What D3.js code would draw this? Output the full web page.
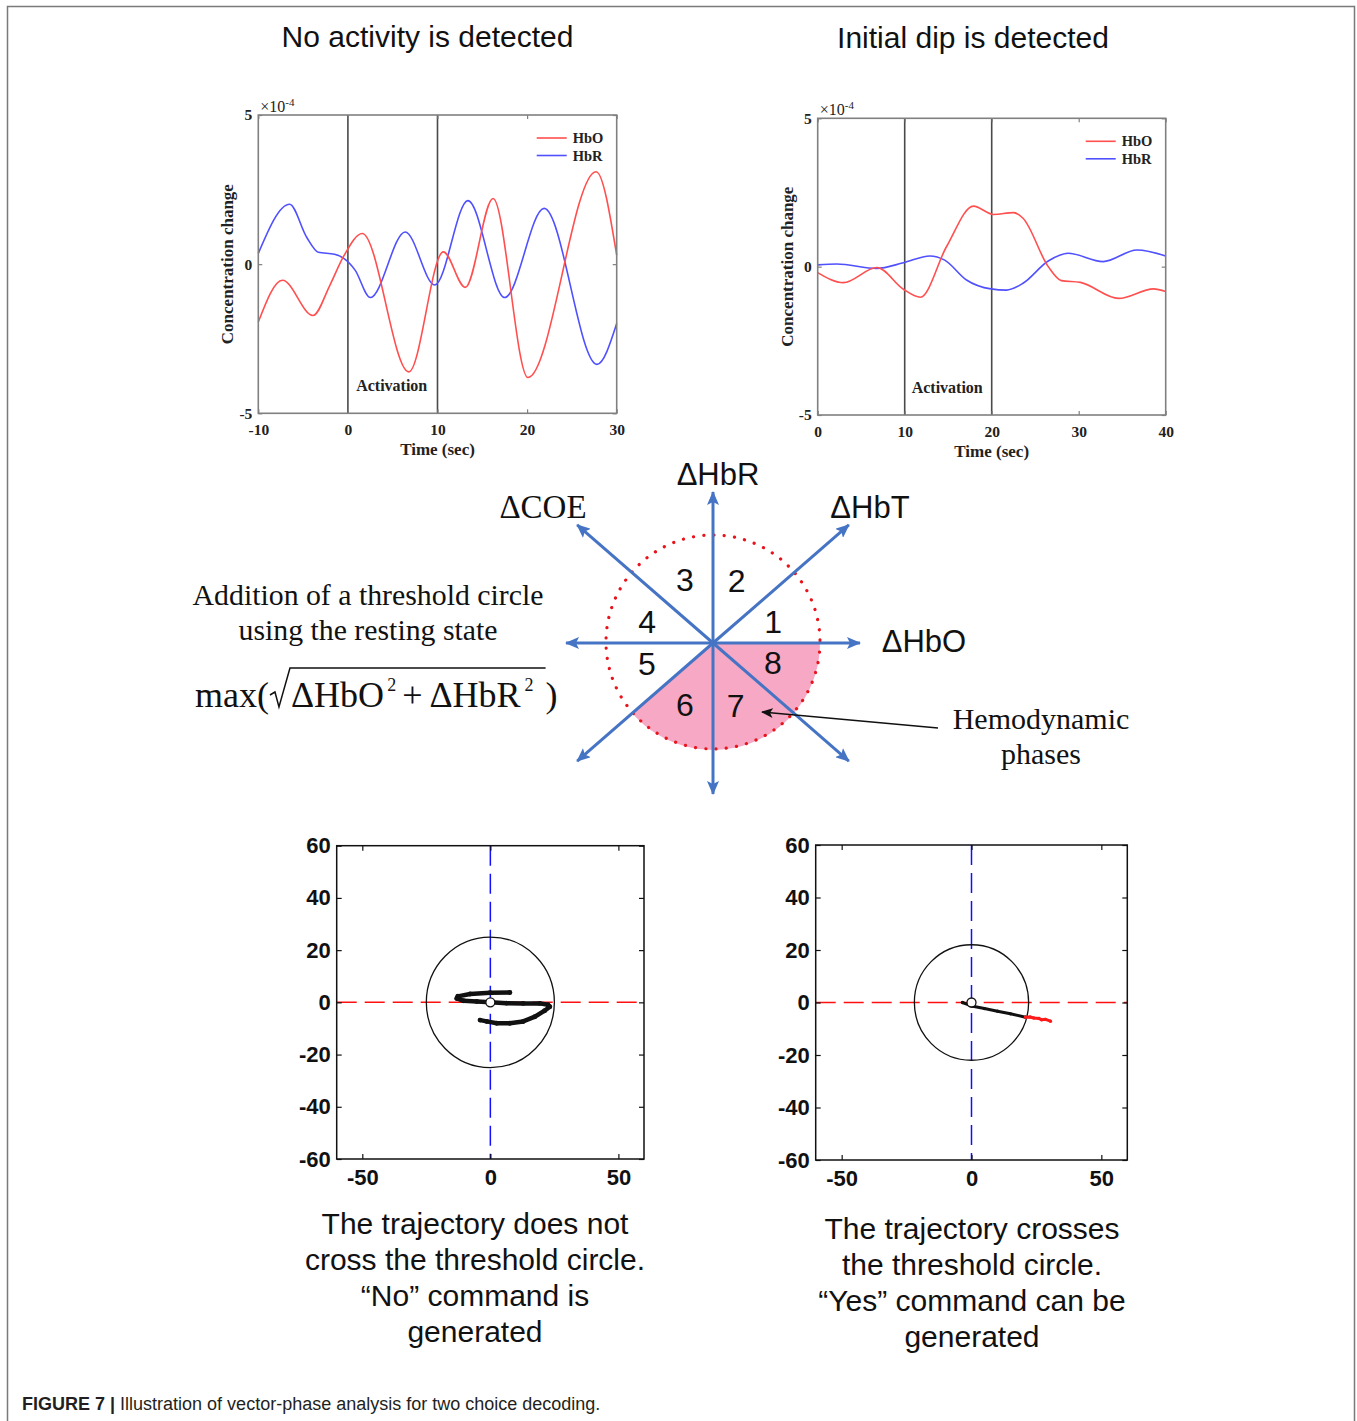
<!DOCTYPE html>
<html><head><meta charset="utf-8">
<script src="https://cdn.jsdelivr.net/npm/d3@7"></script>
<style>body{margin:0;background:#fff}svg{display:block}</style>
</head><body>
<svg id="fig" width="1357" height="1421"></svg>
<script>
// ---------------- DATA ----------------
const panelTitles = ["No activity is detected", "Initial dip is detected"];
const concDomain = [-5, 5];
const concTicks = [-5, 0, 5];
const leftTimeDomain = [-10, 30];
const leftTimeTicks = [-10, 0, 10, 20, 30];
const rightTimeDomain = [0, 40];
const rightTimeTicks = [0, 10, 20, 30, 40];
const leftActivation = [0, 10];
const rightActivation = [10, 20];
const legendLabels = ["HbO", "HbR"];
// [time (s), concentration change (x1e-4)]
const leftHbO = [[-10,-1.94],[-7.3,-0.54],[-3.9,-1.72],[-2,-0.7],[-0.5,0.25],[1.6,1.03],[6.8,-3.61],[10.65,0.41],[13.1,-0.78],[16.2,2.2],[20.1,-3.8],[27.7,3.1],[30,0.3]];
const leftHbR = [[-10,0.36],[-6.5,2.01],[-4.6,0.9],[-3.3,0.4],[-1.5,0.33],[-0.5,0.2],[0.8,-0.2],[2.5,-1.12],[6.4,1.08],[9.7,-0.7],[13.4,2.13],[17.5,-1.12],[21.9,1.87],[27.8,-3.36],[30,-1.99]];
const rightHbO = [[0,-0.2],[2.95,-0.54],[6.8,-0.03],[9.85,-0.76],[11.8,-1.03],[14.8,0.67],[17.9,2.04],[20.2,1.76],[22.5,1.82],[23.6,1.63],[26.5,0.0],[28,-0.47],[30.2,-0.53],[34.6,-1.07],[38.6,-0.75],[40,-0.84]];
const rightHbR = [[0,0.06],[2.2,0.09],[6.8,-0.06],[9.85,0.13],[12.9,0.36],[14.6,0.22],[17.1,-0.45],[19.9,-0.75],[21.7,-0.79],[23.6,-0.56],[26.5,0.19],[28.8,0.45],[32.8,0.17],[36.7,0.56],[40,0.36]];

const phaseAxes = [
  {label: "ΔHbO", angle: 0},
  {label: "ΔHbT", angle: 41},
  {label: "ΔHbR", angle: 90},
  {label: "ΔCOE", angle: 139}
];
const phaseNumbers = ["1","2","3","4","5","6","7","8"];

const vpDomain = [-60, 60];
const vpTicksX = [-50, 0, 50];
const vpTicksY = [-60, -40, -20, 0, 20, 40, 60];
const noThreshold = 25;
const yesThreshold = 22;
// [ΔHbO, ΔHbR]
const noTrajectory = [[7.6,3.8],[-0.1,3.7],[-7.9,3.2],[-12.7,2.3],[-13.1,1.5],[-10.5,0.6],[-5.3,0.3],[0,0],[6.3,-0.3],[12.8,-0.4],[19.3,-0.4],[22.5,-0.9],[23.2,-1.7],[21.2,-3.2],[17.4,-5.5],[12.8,-7.3],[7.6,-8.0],[2.5,-8.0],[-1.4,-7.3],[-4.0,-6.8]];
const yesTrajectoryInside = [[-3.5,0.0],[0,-1.3],[5,-2.3],[10,-3.3],[15,-4.3],[20.8,-5.6]];
const yesTrajectoryOutside = [[20.8,-5.6],[22.5,-5.5],[24,-5.9],[26,-6.1],[27,-6.6],[28.5,-6.4],[30.4,-7.1]];

const bottomTextLeft = ["The trajectory does not", "cross the threshold circle.", "“No” command is", "generated"];
const bottomTextRight = ["The trajectory crosses", "the threshold circle.", "“Yes” command can be", "generated"];
const captionBold = "FIGURE 7 |";
const captionText = " Illustration of vector-phase analysis for two choice decoding.";

// ---------------- DRAWING ----------------
const svg = d3.select('#fig');
const SANS = "'Liberation Sans', Arial, Helvetica, sans-serif";
const SERIF = "'Liberation Serif', 'Times New Roman', Times, serif";
const hboColor = "#ff4f4f", hbrColor = "#5050ff";

svg.append('path').attr('d', 'M7.5,1421 V6.5 H1354.5 V1421')
  .attr('fill', 'none').attr('stroke', '#7a7a7a').attr('stroke-width', 1.5);

svg.selectAll('text.title').data(panelTitles).join('text').attr('class','title')
  .attr('x', (d,i) => i ? 973 : 427.5).attr('y', (d,i) => i ? 48 : 47)
  .attr('text-anchor','middle').attr('font-family', SANS).attr('font-size', 30).attr('fill','#111')
  .text(d => d);

function styleAxis(a, col) {
  a.select('.domain').remove();
  a.selectAll('.tick line').attr('stroke', col).attr('stroke-width', 1.2);
  a.attr('font-family', SERIF).attr('font-size', 15.5).attr('font-weight', 'bold');
  a.selectAll('.tick text').attr('fill', '#222');
}

function timeChart(c) {
  const x = d3.scaleLinear().domain(c.domain).range([c.left, c.right]);
  const y = d3.scaleLinear().domain(concDomain).range([c.bottom, c.top]);
  const g = svg.append('g');
  g.selectAll('line.act').data(c.act).join('line')
    .attr('x1', d => x(d)).attr('x2', d => x(d)).attr('y1', c.top).attr('y2', c.bottom)
    .attr('stroke', '#4a4a4a').attr('stroke-width', 1.6);
  const line = d3.line().x(d => x(d[0])).y(d => y(d[1])).curve(d3.curveMonotoneX);
  g.append('path').datum(c.hbr).attr('d', line).attr('fill','none').attr('stroke', hbrColor).attr('stroke-width', 1.6);
  g.append('path').datum(c.hbo).attr('d', line).attr('fill','none').attr('stroke', hboColor).attr('stroke-width', 1.6);

  const fmt = d => String(d);
  const b = g.append('g').attr('transform', `translate(0,${c.bottom})`)
    .call(d3.axisBottom(x).tickValues(c.ticks).tickSize(-4).tickPadding(11).tickFormat(fmt));
  styleAxis(b, '#808080');
  const t = g.append('g').attr('transform', `translate(0,${c.top})`)
    .call(d3.axisTop(x).tickValues(c.ticks).tickSize(-4).tickFormat(''));
  styleAxis(t, '#808080');
  const l = g.append('g').attr('transform', `translate(${c.left},0)`)
    .call(d3.axisLeft(y).tickValues(concTicks).tickSize(-4).tickPadding(6).tickFormat(fmt));
  styleAxis(l, '#808080');
  const r = g.append('g').attr('transform', `translate(${c.right},0)`)
    .call(d3.axisRight(y).tickValues(concTicks).tickSize(-4).tickFormat(''));
  styleAxis(r, '#808080');

  g.append('rect').attr('x', c.left).attr('y', c.top).attr('width', c.right - c.left).attr('height', c.bottom - c.top)
    .attr('fill','none').attr('stroke','#808080').attr('stroke-width', 1.6);

  const ex = g.append('text').attr('x', c.left + 2).attr('y', c.top - 3)
    .attr('font-family', SERIF).attr('font-size', 16).attr('fill','#222');
  ex.append('tspan').text('×10');
  ex.append('tspan').attr('font-size', 11).attr('dy', -6).text('-4');

  const lg = g.append('g');
  legendLabels.forEach((lab, i) => {
    const yy = c.top + 23 + i * 17.5;
    lg.append('line').attr('x1', c.right - 80).attr('x2', c.right - 50).attr('y1', yy).attr('y2', yy)
      .attr('stroke', i ? hbrColor : hboColor).attr('stroke-width', 1.6);
    lg.append('text').attr('x', c.right - 44).attr('y', yy + 5).attr('font-family', SERIF)
      .attr('font-weight','bold').attr('font-size', 14.5).attr('fill','#222').text(lab);
  });

  g.append('text').attr('transform', `translate(${c.left - 25},${(c.top + c.bottom)/2}) rotate(-90)`)
    .attr('text-anchor','middle').attr('font-family', SERIF).attr('font-weight','bold').attr('font-size', 17).attr('fill','#222')
    .text('Concentration change');
  g.append('text').attr('x', (c.left + c.right)/2).attr('y', c.bottom + 42)
    .attr('text-anchor','middle').attr('font-family', SERIF).attr('font-weight','bold').attr('font-size', 17).attr('fill','#222')
    .text('Time (sec)');
  g.append('text').attr('x', (x(c.act[0]) + x(c.act[1]))/2 - 1).attr('y', c.bottom - 22)
    .attr('text-anchor','middle').attr('font-family', SERIF).attr('font-weight','bold').attr('font-size', 16).attr('fill','#222')
    .text('Activation');
}

timeChart({left: 258.3, right: 616.7, top: 115, bottom: 413.3, domain: leftTimeDomain, ticks: leftTimeTicks, act: leftActivation, hbo: leftHbO, hbr: leftHbR});
timeChart({left: 817.7, right: 1165.7, top: 118.3, bottom: 415, domain: rightTimeDomain, ticks: rightTimeTicks, act: rightActivation, hbo: rightHbO, hbr: rightHbR});

// ---------- vector phase diagram ----------
const cx = 713, cy = 643, rThr = 107;
const blue = "#4674c4";
const dg = svg.append('g');
const defs = svg.append('defs');
defs.append('marker').attr('id','bArrow').attr('viewBox','0 0 14 12').attr('refX', 13).attr('refY', 6)
  .attr('markerWidth', 14).attr('markerHeight', 12).attr('markerUnits','userSpaceOnUse').attr('orient','auto')
  .append('path').attr('d','M0,0 L14,6 L0,12 L3,6 Z').attr('fill', blue);
defs.append('marker').attr('id','kArrow').attr('viewBox','0 0 12 10').attr('refX', 11).attr('refY', 5)
  .attr('markerWidth', 12).attr('markerHeight', 10).attr('markerUnits','userSpaceOnUse').attr('orient','auto')
  .append('path').attr('d','M0,0 L12,5 L0,10 L3,5 Z').attr('fill', '#111');

// highlighted sector (phases 6–8): from the +ΔHbO axis clockwise to the −ΔHbT axis
dg.append('path').attr('transform', `translate(${cx},${cy})`)
  .attr('d', d3.arc().innerRadius(0).outerRadius(rThr)
    .startAngle(Math.PI / 2).endAngle((180 - phaseAxes[1].angle + 90) * Math.PI / 180)())
  .attr('fill', '#f6a8c4');
dg.append('circle').attr('cx', cx).attr('cy', cy - 1).attr('r', rThr)
  .attr('fill','none').attr('stroke','#e8141c').attr('stroke-width', 3.2)
  .attr('stroke-dasharray','0.1 10.2').attr('stroke-linecap','round');

const halfLen = a => (a === 0 ? 147 : a === 90 ? 151 : 180);
phaseAxes.forEach(ax => {
  const rad = ax.angle * Math.PI / 180, L = halfLen(ax.angle);
  const dx = Math.cos(rad) * L, dy = -Math.sin(rad) * L;
  dg.append('line').attr('x1', cx).attr('y1', cy).attr('x2', cx + dx).attr('y2', cy + dy)
    .attr('stroke', blue).attr('stroke-width', 3).attr('marker-end','url(#bArrow)');
  dg.append('line').attr('x1', cx).attr('y1', cy).attr('x2', cx - dx).attr('y2', cy - dy)
    .attr('stroke', blue).attr('stroke-width', 3).attr('marker-end','url(#bArrow)');
});
const axisLabelPos = {"ΔHbO": [924, 652, SANS, 31], "ΔHbT": [870, 518, SANS, 31], "ΔHbR": [718, 485, SANS, 31], "ΔCOE": [543, 518, SERIF, 33]};
phaseAxes.forEach(ax => {
  const p = axisLabelPos[ax.label];
  dg.append('text').attr('x', p[0]).attr('y', p[1]).attr('text-anchor','middle')
    .attr('font-family', p[2]).attr('font-size', p[3]).attr('fill','#111').text(ax.label);
});
// phase number label positions (polar offsets from the origin)
const numR = [63.6, 67.3, 69, 69.3, 69, 68, 66, 63.2];
const numAng = [19.3, 69.4, 114, 162, 197, 245.7, 290, 341.6];
phaseNumbers.forEach((n, i) => {
  const a = numAng[i] * Math.PI / 180, rr = numR[i];
  dg.append('text').attr('x', cx + Math.cos(a) * rr).attr('y', cy - Math.sin(a) * rr)
    .attr('dy', '0.36em').attr('text-anchor','middle').attr('font-family', SANS).attr('font-size', 32).attr('fill','#111').text(n);
});

// annotation
dg.append('line').attr('x1', 938).attr('y1', 728).attr('x2', 762).attr('y2', 712)
  .attr('stroke','#111').attr('stroke-width', 1.4).attr('marker-end','url(#kArrow)');
dg.selectAll('text.hemo').data(['Hemodynamic','phases']).join('text').attr('class','hemo')
  .attr('x', 1041).attr('y', (d,i) => 729 + i * 35).attr('text-anchor','middle')
  .attr('font-family', SERIF).attr('font-size', 30).attr('fill','#111').text(d => d);

dg.selectAll('text.add').data(['Addition of a threshold circle','using the resting state']).join('text').attr('class','add')
  .attr('x', 368).attr('y', (d,i) => 605 + i * 35).attr('text-anchor','middle')
  .attr('font-family', SERIF).attr('font-size', 29.8).attr('fill','#111').text(d => d);

// formula
const fy = 707, fs = 36;
const t1 = dg.append('text').attr('x', 195).attr('y', fy).attr('font-family', SERIF).attr('font-size', fs).attr('fill','#111').text('max(');
const w1 = t1.node().getComputedTextLength();
const r0 = 195 + w1;
const inner = dg.append('text').attr('x', r0 + 22).attr('y', fy).attr('font-family', SERIF).attr('font-size', fs).attr('fill','#111');
inner.append('tspan').text('ΔHbO');
inner.append('tspan').attr('font-size', 18).attr('dy', -16).attr('dx', 3).text('2');
inner.append('tspan').attr('dy', 16).attr('dx', 6).text('+');
inner.append('tspan').attr('dx', 7).text('ΔHbR');
inner.append('tspan').attr('font-size', 18).attr('dy', -16).attr('dx', 4).text('2');
const bb = inner.node().getBBox();
const oEnd = Math.max(bb.x + bb.width + 12, 543);
dg.append('path').attr('d', `M${r0+1},${fy-12} L${r0+6},${fy-15} L${r0+10},${fy} L${r0+21},${fy-39} H${oEnd}`)
  .attr('fill','none').attr('stroke','#111').attr('stroke-width', 1.5);
dg.append('text').attr('x', oEnd).attr('y', fy).attr('font-family', SERIF).attr('font-size', fs).attr('fill','#111').text(')');

// ---------- vector phase trajectories ----------
function vpChart(c) {
  const x = d3.scaleLinear().domain(vpDomain).range([c.left, c.right]);
  const y = d3.scaleLinear().domain(vpDomain).range([c.bottom, c.top]);
  const g = svg.append('g');
  g.append('line').attr('x1', c.left).attr('x2', c.right).attr('y1', y(0)).attr('y2', y(0))
    .attr('stroke','#ff1010').attr('stroke-width', 1.5).attr('stroke-dasharray','20 8');
  g.append('line').attr('x1', x(0)).attr('x2', x(0)).attr('y1', c.top).attr('y2', c.bottom)
    .attr('stroke','#1010ff').attr('stroke-width', 1.5).attr('stroke-dasharray','20 8');
  g.append('ellipse').attr('cx', x(0)).attr('cy', y(0)).attr('rx', x(c.r) - x(0)).attr('ry', y(0) - y(c.r))
    .attr('fill','none').attr('stroke','#111').attr('stroke-width', 1.3);
  const line = d3.line().x(d => x(d[0])).y(d => y(d[1])).curve(d3.curveLinear);
  c.paths.forEach(p => {
    g.append('path').datum(p.data).attr('d', line).attr('fill','none').attr('stroke', p.color)
      .attr('stroke-width', p.w).attr('stroke-linejoin','round').attr('stroke-linecap','round');
    g.selectAll(null).data(p.data).join('circle').attr('cx', d => x(d[0])).attr('cy', d => y(d[1]))
      .attr('r', p.w * 0.55).attr('fill', p.color);
  });
  g.append('circle').attr('cx', x(0)).attr('cy', y(0)).attr('r', 4.5).attr('fill','#fff').attr('stroke','#111').attr('stroke-width', 1.3);

  const fmt = d => String(d);
  const style = a => {
    a.select('.domain').remove();
    a.selectAll('.tick line').attr('stroke','#111').attr('stroke-width', 1.2);
    a.attr('font-family', SANS).attr('font-size', 22).attr('font-weight','bold');
    a.selectAll('.tick text').attr('fill','#111');
  };
  style(g.append('g').attr('transform', `translate(0,${c.bottom})`).call(d3.axisBottom(x).tickValues(vpTicksX).tickSize(-5).tickPadding(10).tickFormat(fmt)));
  style(g.append('g').attr('transform', `translate(0,${c.top})`).call(d3.axisTop(x).tickValues(vpTicksX).tickSize(-5).tickFormat('')));
  style(g.append('g').attr('transform', `translate(${c.left},0)`).call(d3.axisLeft(y).tickValues(vpTicksY).tickSize(-5).tickPadding(6).tickFormat(fmt)));
  style(g.append('g').attr('transform', `translate(${c.right},0)`).call(d3.axisRight(y).tickValues(vpTicksY).tickSize(-5).tickFormat('')));
  g.append('rect').attr('x', c.left).attr('y', c.top).attr('width', c.right - c.left).attr('height', c.bottom - c.top)
    .attr('fill','none').attr('stroke','#111').attr('stroke-width', 1.5);

  g.selectAll('text.desc').data(c.text).join('text').attr('class','desc')
    .attr('x', c.textX).attr('y', (d,i) => c.textY + i * 36).attr('text-anchor','middle')
    .attr('font-family', SANS).attr('font-size', 30).attr('fill','#111').text(d => d);
}
vpChart({left: 336.7, right: 644, top: 845.7, bottom: 1159, r: noThreshold,
  paths: [{data: noTrajectory, color: '#111', w: 4.5}],
  text: bottomTextLeft, textX: 475, textY: 1234});
vpChart({left: 815.7, right: 1127.3, top: 845, bottom: 1160, r: yesThreshold,
  paths: [{data: yesTrajectoryInside, color: '#111', w: 3}, {data: yesTrajectoryOutside, color: '#ff1a1a', w: 3}],
  text: bottomTextRight, textX: 972, textY: 1239});

const cap = svg.append('text').attr('x', 22).attr('y', 1410).attr('font-family', SANS).attr('font-size', 18).attr('fill','#231f20');
cap.append('tspan').attr('font-weight','bold').text(captionBold);
cap.append('tspan').text(captionText);
</script>
</body></html>
